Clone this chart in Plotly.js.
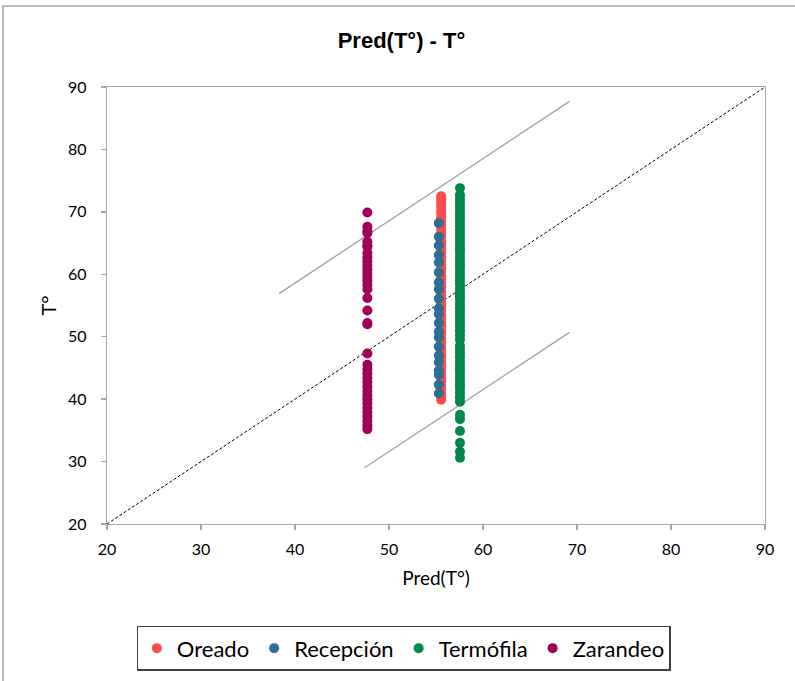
<!DOCTYPE html>
<html>
<head>
<meta charset="utf-8">
<script src="https://cdn.plot.ly/plotly-3.0.1.min.js"></script>
<style>
  html, body { margin: 0; padding: 0; background: #fff; }
  #chart { width: 795px; height: 681px; }
</style>
</head>
<body>
<div id="chart"></div>
<script>
// Series names
const seriesNames = ["Oreado", "Recepción", "Termófila", "Zarandeo"];
// Predicted value (x) of each series
const predOreado = 55.55;
const predRecepcion = 55.3;
const predTermofila = 57.55;
const predZarandeo = 47.7;

// Observed T° values (y)
const tOreado = [72.5, 72.0, 71.4, 70.9, 70.3, 69.8, 69.1, 68.5, 67.9, 67.2, 66.6, 66.0, 65.3, 64.7, 64.1,
  63.4, 62.8, 62.3, 61.6, 61.0, 60.4, 59.7, 59.2, 58.5, 57.9, 57.3, 56.6, 56.1, 55.4, 54.8, 54.2, 53.5,
  52.9, 52.3, 51.7, 51.0, 50.4, 49.8, 49.2, 48.5, 47.9, 47.3, 46.7, 46.0, 45.4, 44.8, 44.2, 43.5, 42.9,
  42.3, 41.7, 41.0, 40.5, 39.9];
const tRecepcion = [68.2, 66.0, 64.6, 63.1, 61.9, 60.3, 58.7, 57.6, 56.1, 54.5, 53.6, 52.2, 50.8, 49.9,
  48.4, 47.0, 45.9, 44.6, 43.9, 42.3, 40.9];
const tTermofila = [73.8, 72.7, 72.1, 71.5, 70.9, 70.2, 69.6, 69.0, 68.4, 67.7, 67.1, 66.5, 65.9, 65.2,
  64.6, 64.0, 63.4, 62.7, 62.1, 61.5, 60.9, 60.2, 59.6, 59.0, 58.4, 57.7, 57.1, 56.5, 55.9, 55.2, 54.6,
  54.0, 53.4, 52.7, 52.1, 51.5, 50.9, 50.2, 49.5, 48.5, 47.9, 47.3, 46.7, 46.0, 45.4, 44.8, 44.2, 43.5,
  42.9, 42.3, 41.7, 41.0, 40.3, 39.6, 37.5, 36.8, 34.9, 33.0, 31.6, 30.6];
const tZarandeo = [69.9, 67.6, 66.9, 66.6, 65.2, 64.6, 64.4, 63.4, 62.7, 62.1, 61.4, 60.8, 60.2, 59.6,
  59.0, 58.3, 57.6, 56.2, 54.2, 52.2, 52.0, 47.3, 45.5, 44.8, 44.1, 43.4, 42.7, 42.0, 41.3, 40.6, 40.0,
  39.3, 38.6, 37.9, 37.2, 36.5, 35.8, 35.2];

// Reference lines
const diagX = [20, 90];
const diagY = [20, 90];
const upperX = [38.3, 69.2];
const upperY = [56.9, 87.7];
const lowerX = [47.4, 69.2];
const lowerY = [29.0, 50.7];

// Axis ticks
const xTicks = [20, 30, 40, 50, 60, 70, 80, 90];
const yTicks = [20, 30, 40, 50, 60, 70, 80, 90];

const colors = ["#ff4b4b", "#2c6f93", "#00884a", "#a0005a"];
const mSize = 10;

const traces = [
  { x: diagX, y: diagY, mode: "lines", line: {color: "#000", width: 1, dash: "3px,2px"}, showlegend: false, hoverinfo: "skip" },
  { x: upperX, y: upperY, mode: "lines", line: {color: "#a0a0a0", width: 1.3}, showlegend: false, hoverinfo: "skip" },
  { x: lowerX, y: lowerY, mode: "lines", line: {color: "#a0a0a0", width: 1.3}, showlegend: false, hoverinfo: "skip" },
  { name: seriesNames[0], legendgroup: "g0", x: tOreado.map(() => predOreado), y: tOreado, mode: "markers", type: "scatter",
    marker: {color: colors[0], size: mSize} },
  { name: seriesNames[1], legendgroup: "g1", x: tRecepcion.map(() => predRecepcion), y: tRecepcion, mode: "markers", type: "scatter",
    marker: {color: colors[1], size: mSize} },
  { name: seriesNames[2], legendgroup: "g2", x: tTermofila.map(() => predTermofila), y: tTermofila, mode: "markers", type: "scatter",
    marker: {color: colors[2], size: mSize} },
  { name: seriesNames[3], legendgroup: "g3", x: tZarandeo.map(() => predZarandeo), y: tZarandeo, mode: "markers", type: "scatter",
    marker: {color: colors[3], size: mSize} }
];

const tickFont = {family: "Lato, 'Open Sans', sans-serif", size: 16, color: "#000"};

const layout = {
  width: 795, height: 681,
  paper_bgcolor: "#fff", plot_bgcolor: "#fff",
  margin: {l: 107, r: 30, t: 87, b: 157},
  title: {
    text: "<b>Pred(T°) - T°</b>",
    font: {family: "'Liberation Sans', Arial, sans-serif", size: 22, color: "#000"},
    x: 0.505, xref: "container", y: 0.941, yref: "container", yanchor: "middle"
  },
  xaxis: {
    range: [20, 90], tickvals: xTicks, ticktext: xTicks.map(String),
    showgrid: false, zeroline: false,
    showline: true, linecolor: "#a6a6a6", linewidth: 1.3, mirror: true,
    ticks: "outside", ticklen: 5, tickcolor: "#a6a6a6", tickwidth: 1.3,
    tickfont: tickFont, ticklabelstandoff: 5,
    title: {text: "Pred(T°)", font: {family: "Lato, 'Open Sans', sans-serif", size: 19, color: "#000"}, standoff: 15}
  },
  yaxis: {
    range: [20, 90], tickvals: yTicks, ticktext: yTicks.map(String),
    showgrid: false, zeroline: false,
    showline: true, linecolor: "#a6a6a6", linewidth: 1.3, mirror: true,
    ticks: "outside", ticklen: 5, tickcolor: "#a6a6a6", tickwidth: 1.3,
    tickfont: tickFont, ticklabelstandoff: 11,
    title: {text: "T°", font: {family: "Lato, 'Open Sans', sans-serif", size: 20, color: "#000"}, standoff: 6}
  },
  legend: {
    orientation: "h",
    xref: "container", yref: "container",
    x: 0.508, xanchor: "center",
    y: 0.081, yanchor: "top",
    bordercolor: "#404040", borderwidth: 1.5,
    bgcolor: "#fff",
    font: {family: "Lato, 'Open Sans', sans-serif", size: 22, color: "#000"},
    itemwidth: 30,
    tracegroupgap: 14
  },
  shapes: [
    { type: "path", xref: "paper", yref: "paper",
      path: "M -0.158 -0.5 L -0.158 1.1854 L 1.2 1.1854",
      line: {color: "#a6a6a6", width: 1.5} }
  ],
  showlegend: true
};

Plotly.newPlot("chart", traces, layout, {displayModeBar: false, staticPlot: true});
</script>
</body>
</html>
